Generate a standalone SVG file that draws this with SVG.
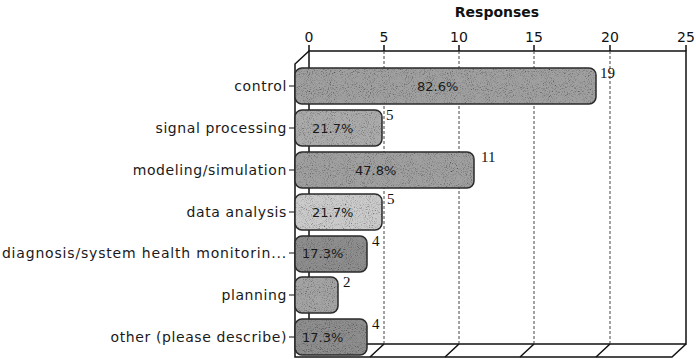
<svg xmlns="http://www.w3.org/2000/svg" width="696" height="359" viewBox="0 0 696 359">
<style>
.title{font-family:"DejaVu Sans",sans-serif;font-weight:bold;font-size:14px;fill:#111;text-anchor:middle}
.tick{font-family:"DejaVu Sans",sans-serif;font-size:14px;fill:#111;text-anchor:middle}
.cat{font-family:"DejaVu Sans",sans-serif;font-size:14px;letter-spacing:0.6px;fill:#1a1a1a;text-anchor:end}
.pct{font-family:"DejaVu Sans",sans-serif;font-size:13px;fill:#1a1a1a}
.val{font-family:"Liberation Serif",serif;font-size:15px;fill:#111}
.axis{stroke:#111;stroke-width:1.5;fill:none}
.grid{stroke:#444;stroke-width:1;stroke-dasharray:3 2;fill:none}
.ct{stroke:#111;stroke-width:1.2}
.edge{fill:none;stroke:#2a2a2a;stroke-width:1.5}
</style>
<defs>
<filter id="grain" x="0" y="0" width="100%" height="100%">
<feTurbulence type="fractalNoise" baseFrequency="0.95" numOctaves="2" seed="4" result="n"/>
<feColorMatrix in="n" type="matrix" values="0.33 0.33 0.33 0 0  0.33 0.33 0.33 0 0  0.33 0.33 0.33 0 0  0 0 0 0 1" result="g"/>
<feComponentTransfer in="g" result="c"><feFuncR type="linear" slope="3" intercept="-0.5"/><feFuncG type="linear" slope="3" intercept="-0.5"/><feFuncB type="linear" slope="3" intercept="-0.5"/></feComponentTransfer>
<feBlend in="SourceGraphic" in2="c" mode="multiply" result="m"/>
<feComposite in="m" in2="SourceGraphic" operator="in"/>
</filter>
</defs>
<text class="title" x="497" y="17">Responses</text>
<g id="axes">
<text class="tick" x="309" y="42">0</text>
<text class="tick" x="384" y="42">5</text>
<text class="tick" x="459" y="42">10</text>
<text class="tick" x="534" y="42">15</text>
<text class="tick" x="610" y="42">20</text>
<text class="tick" x="686" y="42">25</text>
<path class="axis" d="M309 51H686V344H309Z"/>
<path class="axis" d="M309 45V51M384 45V51M459 45V51M534 45V51M610 45V51M686 45V51"/>
<path class="grid" d="M384 51V344M459 51V344M534 51V344M610 51V344"/>
<path class="axis" d="M309 51L295 64V357H672L686 344"/>
<path class="axis" d="M384 344L370 357M459 344L445 357M534 344L520 357M610 344L596 357"/>
<path class="ct" d="M289 86H295M289 128H295M289 170H295M289 212H295M289 253H295M289 295H295M289 337H295"/>
</g>
<g id="labels">
<text class="cat" x="287" y="91">control</text>
<text class="cat" x="287" y="133">signal processing</text>
<text class="cat" x="287" y="175">modeling/simulation</text>
<text class="cat" x="287" y="217">data analysis</text>
<text class="cat" x="287" y="258" style="letter-spacing:0.82px">diagnosis/system health monitorin...</text>
<text class="cat" x="287" y="300">planning</text>
<text class="cat" x="287" y="342">other (please describe)</text>
</g>
<g id="bar-control">
<rect x="295" y="68" width="301" height="36" rx="7" fill="#a0a0a0" filter="url(#grain)"/>
<rect class="edge" x="295" y="68" width="301" height="36" rx="7"/>
<text class="pct" x="417" y="91">82.6%</text>
<text class="val" x="600" y="78">19</text>
</g>
<g id="bar-signal">
<rect x="295" y="110" width="87" height="36" rx="7" fill="#ababab" filter="url(#grain)"/>
<rect class="edge" x="295" y="110" width="87" height="36" rx="7"/>
<text class="pct" x="312" y="133">21.7%</text>
<text class="val" x="386" y="120">5</text>
</g>
<g id="bar-modeling">
<rect x="295" y="152" width="179" height="36" rx="7" fill="#a0a0a0" filter="url(#grain)"/>
<rect class="edge" x="295" y="152" width="179" height="36" rx="7"/>
<text class="pct" x="355" y="175">47.8%</text>
<text class="val" x="481" y="162">11</text>
</g>
<g id="bar-data">
<rect x="295" y="194" width="87" height="36" rx="7" fill="#cbcbcb" filter="url(#grain)"/>
<rect class="edge" x="295" y="194" width="87" height="36" rx="7"/>
<text class="pct" x="312" y="217">21.7%</text>
<text class="val" x="387" y="204">5</text>
</g>
<g id="bar-diagnosis">
<rect x="295" y="236" width="72" height="36" rx="7" fill="#8e8e8e" filter="url(#grain)"/>
<rect class="edge" x="295" y="236" width="72" height="36" rx="7"/>
<text class="pct" x="302" y="258">17.3%</text>
<text class="val" x="372" y="246">4</text>
</g>
<g id="bar-planning">
<rect x="295" y="277" width="43" height="36" rx="7" fill="#a4a4a4" filter="url(#grain)"/>
<rect class="edge" x="295" y="277" width="43" height="36" rx="7"/>
<text class="val" x="343" y="287">2</text>
</g>
<g id="bar-other">
<rect x="295" y="319" width="72" height="36" rx="7" fill="#8e8e8e" filter="url(#grain)"/>
<rect class="edge" x="295" y="319" width="72" height="36" rx="7"/>
<text class="pct" x="302" y="342">17.3%</text>
<text class="val" x="372" y="329">4</text>
</g>
</svg>
